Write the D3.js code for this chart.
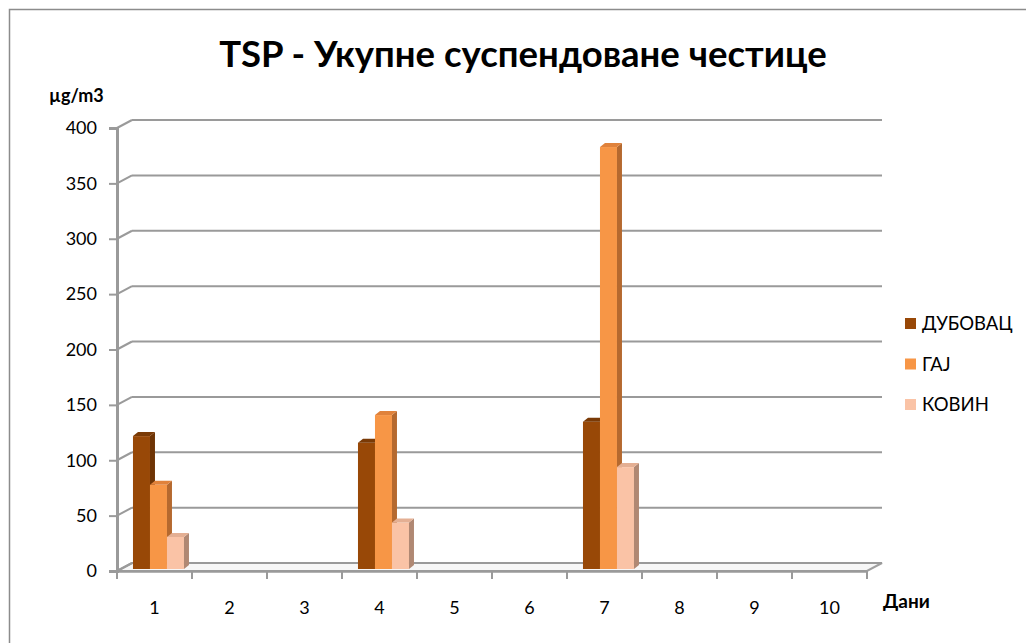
<!DOCTYPE html>
<html>
<head>
<meta charset="utf-8">
<script src="https://cdn.jsdelivr.net/npm/d3@7"></script>
<style>
body { margin: 0; background: #fff; }
text { font-family: Lato, "Open Sans", sans-serif; }
</style>
</head>
<body>
<svg id="chart" width="1026" height="643"></svg>
<script>
// data
var days = ["1", "2", "3", "4", "5", "6", "7", "8", "9", "10"];
var series = ["ДУБОВАЦ", "ГАЈ", "КОВИН"];
var dubovac = [120, 0, 0, 114, 0, 0, 133, 0, 0, 0];
var gaj = [76, 0, 0, 139, 0, 0, 381, 0, 0, 0];
var kovin = [29, 0, 0, 42, 0, 0, 92, 0, 0, 0];
var yTicks = [0, 50, 100, 150, 200, 250, 300, 350, 400];

var values = [dubovac, gaj, kovin];
var front = ["#984807", "#F79646", "#FAC3A6"];
var side = ["#6E3405", "#B5692F", "#B08873"];
var top_ = ["#7A3A06", "#E0823B", "#E4AF93"];

var svg = d3.select("#chart");

// frame (right and bottom edges fall outside)
svg.append("rect")
	.attr("x", 9.5).attr("y", 9.5)
	.attr("width", 1040).attr("height", 640)
	.attr("fill", "none").attr("stroke", "#8c8c8c").attr("stroke-width", 1.5);

var x = d3.scaleBand().domain(days).range([117, 867]);
var y = d3.scaleLinear().domain([0, 400]).range([571, 128]);
var dx = 15, dy = -8;  // depth of the 3d box

var bw = x.bandwidth();
var xs = d3.scaleBand().domain(series).range([bw * 0.213, bw * 0.213 + 51]);

// floor
svg.append("path")
	.attr("d", "M" + x.range()[0] + "," + y(0) + "L" + (x.range()[0] + dx) + "," + (y(0) + dy)
		+ "L" + (x.range()[1] + dx) + "," + (y(0) + dy) + "L" + x.range()[1] + "," + y(0) + "Z")
	.attr("fill", "#f7f7f7").attr("stroke", "#a0a0a0").attr("stroke-width", 2);

// back gridlines and the small diagonals on the left wall
yTicks.forEach(function(t) {
	svg.append("line")
		.attr("x1", x.range()[0] + dx).attr("x2", x.range()[1] + dx)
		.attr("y1", y(t) + dy).attr("y2", y(t) + dy)
		.attr("stroke", "#9a9a9a").attr("stroke-width", 2);
	svg.append("line")
		.attr("x1", x.range()[0]).attr("x2", x.range()[0] + dx)
		.attr("y1", y(t)).attr("y2", y(t) + dy)
		.attr("stroke", "#9a9a9a").attr("stroke-width", 2);
});

// y axis
var yAxis = svg.append("g")
	.attr("transform", "translate(" + x.range()[0] + ",0)")
	.call(d3.axisLeft(y).tickValues(yTicks).tickSize(8).tickPadding(12));
yAxis.select(".domain").attr("stroke", "#9a9a9a").attr("stroke-width", 3);
yAxis.selectAll(".tick line").attr("stroke", "#9a9a9a").attr("stroke-width", 2);
yAxis.selectAll("text").style("font-size", "18px").attr("fill", "#000")
	.attr("font-family", "Lato, sans-serif");

// x axis
var xAxis = svg.append("g")
	.attr("transform", "translate(0," + y(0) + ")")
	.call(d3.axisBottom(x).tickSize(0).tickPadding(30));
xAxis.select(".domain").attr("stroke", "#9a9a9a").attr("stroke-width", 2.5);
xAxis.selectAll("text").style("font-size", "18px").attr("fill", "#000")
	.attr("font-family", "Lato, sans-serif");
// ticks on the band edges
svg.selectAll(".xtick")
	.data(days.concat(["end"]))
	.enter().append("line")
	.attr("x1", function(d, i) { return x.range()[0] + i * bw; })
	.attr("x2", function(d, i) { return x.range()[0] + i * bw; })
	.attr("y1", y(0)).attr("y2", y(0) + 8)
	.attr("stroke", "#9a9a9a").attr("stroke-width", 2);

// 3d bars
var bdx = 5, bdy = -4, base = -2;
series.forEach(function(s, si) {
	var g = svg.append("g");
	days.forEach(function(d, di) {
		var v = values[si][di];
		if (!v) return;
		var x0 = x(d) + xs(s), w = xs.bandwidth();
		var y0 = y(0) + base, y1 = y(v) + base;
		g.append("rect").attr("x", x0).attr("y", y1).attr("width", w).attr("height", y0 - y1)
			.attr("fill", front[si]);
		g.append("path")
			.attr("d", "M" + (x0 + w) + "," + y1 + "l" + bdx + "," + bdy + "L" + (x0 + w + bdx) + "," + (y0 + bdy)
				+ "L" + (x0 + w) + "," + y0 + "Z")
			.attr("fill", side[si]);
		g.append("path")
			.attr("d", "M" + x0 + "," + y1 + "l" + bdx + "," + bdy + "l" + w + ",0l" + (-bdx) + "," + (-bdy) + "Z")
			.attr("fill", top_[si]);
	});
});

// title and axis names
svg.append("text")
	.attr("x", 523).attr("y", 67)
	.attr("text-anchor", "middle")
	.style("font-size", "36.5px").style("font-weight", "bold")
	.text("TSP - Укупне суспендоване честице");

svg.append("text")
	.attr("x", 49).attr("y", 102)
	.style("font-size", "18px").style("font-weight", "bold")
	.text("µg/m3");

svg.append("text")
	.attr("x", 883).attr("y", 608)
	.style("font-size", "19px").style("font-weight", "bold")
	.text("Дани");

// legend
var leg = svg.selectAll(".leg")
	.data(series)
	.enter().append("g")
	.attr("transform", function(d, i) { return "translate(905," + (318 + i * 40.5) + ")"; });
leg.append("rect").attr("width", 11).attr("height", 11)
	.attr("fill", function(d, i) { return front[i]; });
leg.append("text").attr("x", 17).attr("y", 12)
	.style("font-size", "18.5px")
	.text(function(d) { return d; });
</script>
</body>
</html>
